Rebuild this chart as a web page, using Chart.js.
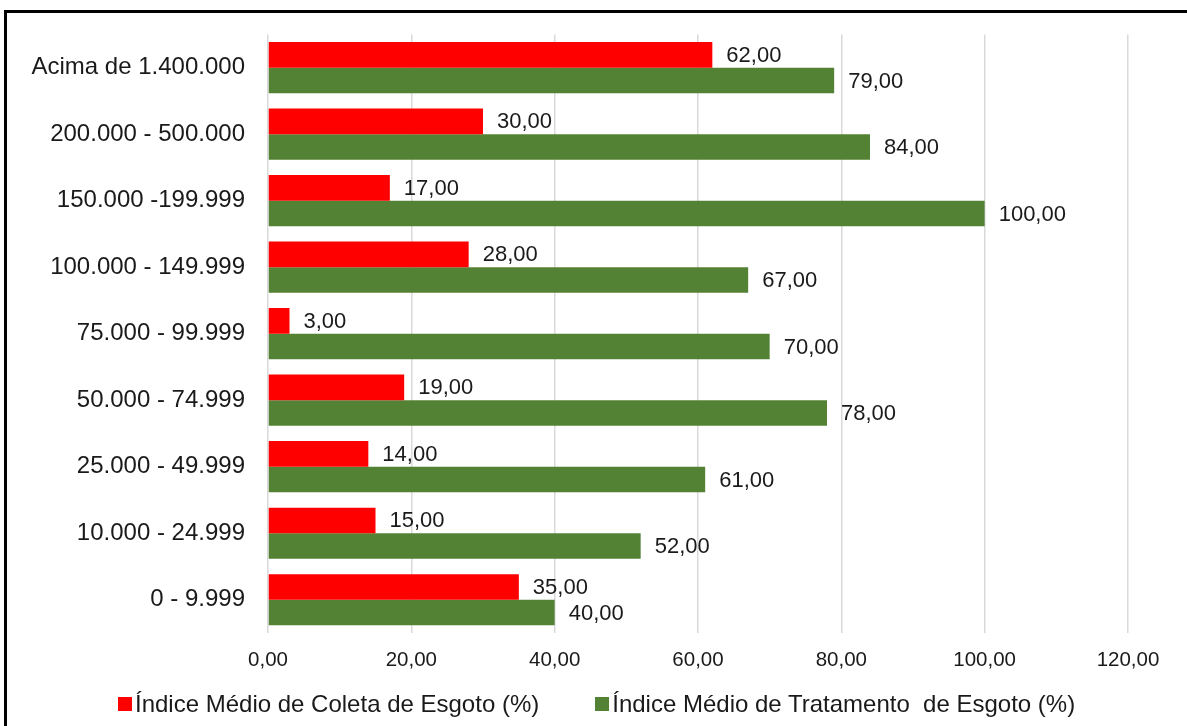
<!DOCTYPE html>
<html>
<head>
<meta charset="utf-8">
<script src="https://cdn.jsdelivr.net/npm/chart.js@4"></script>
<style>
  html, body { margin: 0; padding: 0; background: #fff; }
  #wrap { position: relative; width: 1187px; height: 726px; overflow: hidden; }
  #moldura { position: absolute; left: 4px; top: 10px; width: 1200px; height: 740px;
             border-left: 3px solid #000; border-top: 3px solid #000; box-sizing: border-box; }
  canvas { position: absolute; left: 0; top: -3px; }
  #legenda { position: absolute; left: 118px; top: 690px; display: flex; align-items: center;
             font: 24px "Liberation Sans", Arial, sans-serif; color: #1a1a1a; white-space: pre; }
  #legenda .item { display: flex; align-items: center; margin-right: 56px; }
  #legenda .caixa { width: 14px; height: 14px; margin-right: 3px; }
</style>
</head>
<body>
<div id="wrap">
  <div id="moldura"></div>
  <canvas id="grafico" width="1187" height="726"></canvas>
  <div id="legenda"></div>
</div>
<script>
// faixas de população (de cima para baixo)
const faixas = ['Acima de 1.400.000', '200.000 - 500.000', '150.000 -199.999', '100.000 - 149.999',
  '75.000 - 99.999', '50.000 - 74.999', '25.000 - 49.999', '10.000 - 24.999', '0 - 9.999'];
const coleta = [62, 30, 17, 28, 3, 19, 14, 15, 35];
const tratamento = [79, 84, 100, 67, 70, 78, 61, 52, 40];
const nomesSeries = ['Índice Médio de Coleta de Esgoto (%)', 'Índice Médio de Tratamento  de Esgoto (%)'];
const cores = ['#ff0000', '#548235'];

const fonte = '"Liberation Sans", Arial, sans-serif';
const fmt = v => v.toFixed(2).replace('.', ',');

// rótulos de valor ao lado das barras
const rotulos = {
  id: 'rotulos',
  afterDatasetsDraw(chart) {
    const ctx = chart.ctx;
    ctx.save();
    ctx.font = '22px ' + fonte;
    ctx.fillStyle = '#1a1a1a';
    ctx.textBaseline = 'middle';
    ctx.textAlign = 'left';
    chart.data.datasets.forEach((ds, i) => {
      chart.getDatasetMeta(i).data.forEach((bar, j) => {
        ctx.fillText(fmt(ds.data[j]), bar.x + 14, bar.y + 1);
      });
    });
    ctx.restore();
  }
};

const grafico = new Chart(document.getElementById('grafico').getContext('2d'), {
  type: 'bar',
  data: {
    labels: faixas,
    datasets: [
      { label: nomesSeries[0], data: coleta, backgroundColor: cores[0] },
      { label: nomesSeries[1], data: tratamento, backgroundColor: cores[1] }
    ]
  },
  options: {
    indexAxis: 'y',
    responsive: false,
    animation: false,
    layout: { padding: { top: 31, right: 59, bottom: 46, left: 0 } },
    datasets: { bar: { barPercentage: 1, categoryPercentage: 0.77 } },
    scales: {
      x: {
        min: 0, max: 120,
        ticks: { stepSize: 20, padding: 15, color: '#1a1a1a', font: { family: fonte, size: 20.5 }, callback: v => fmt(v) },
        grid: { color: '#d9d9d9', lineWidth: 1.5, drawTicks: false },
        border: { display: false },
        afterFit: s => { s.height = 44; }
      },
      y: {
        ticks: { padding: 23, color: '#1a1a1a', font: { family: fonte, size: 24 } },
        grid: { display: false, drawTicks: false },
        border: { display: false },
        afterFit: s => { s.width = 268; }
      }
    },
    plugins: {
      legend: { display: false },
      tooltip: { enabled: false }
    }
  },
  plugins: [rotulos]
});

// legenda em HTML
const legenda = document.getElementById('legenda');
grafico.data.datasets.forEach(ds => {
  const item = document.createElement('div');
  item.className = 'item';
  const caixa = document.createElement('span');
  caixa.className = 'caixa';
  caixa.style.background = ds.backgroundColor;
  const texto = document.createElement('span');
  texto.textContent = ds.label;
  item.appendChild(caixa);
  item.appendChild(texto);
  legenda.appendChild(item);
});
</script>
</body>
</html>
